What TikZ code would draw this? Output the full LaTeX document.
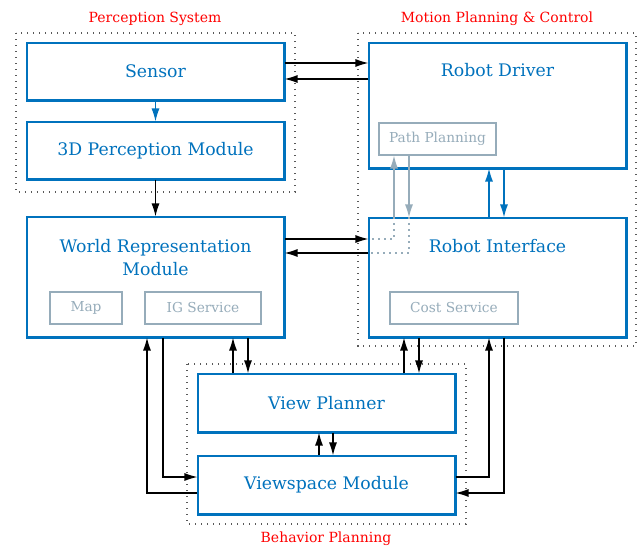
\documentclass[tikz,border=0pt]{standalone}
\usepackage{fontspec}
\setmainfont{DejaVu Serif}
\usetikzlibrary{arrows.meta,calc}
\definecolor{mblue}{RGB}{0,114,189}
\definecolor{mgray}{RGB}{150,172,186}
\definecolor{mred}{RGB}{255,0,0}
\begin{document}
\begin{tikzpicture}[x=1pt,y=-1pt,
  box/.style={draw=mblue,line width=1.1pt,fill=white,text=mblue,inner sep=0pt,font=\fontsize{17.3}{21}\selectfont},
  sub/.style={draw=mgray,line width=1.1pt,text=mgray,inner sep=0pt,font=\fontsize{13.7}{16}\selectfont},
  grp/.style={draw=black!65,line width=1.1pt,dash pattern=on 1.1pt off 4.9pt},
  grplabel/.style={text=mred,font=\fontsize{14}{16}\selectfont},
  btext/.style={text=mblue,font=\fontsize{17.3}{23}\selectfont,align=center},
  arr/.style={draw=black,line width=1.2pt,-{Latex[length=13pt,width=8pt]}},
  barr/.style={draw=mblue,line width=1.2pt,-{Latex[length=13pt,width=8pt]}},
  garr/.style={draw=mgray,line width=1.2pt,-{Latex[length=13pt,width=8pt]}},
  gdot/.style={draw=mgray,line width=1.1pt,dash pattern=on 1.1pt off 4.9pt},
]
\useasboundingbox (0,0) rectangle (637,547);
% groups
\draw[grp] (16,33) rectangle (295,192);
\draw[grp] (358,33) rectangle (636,346);
\draw[grp] (187,364) rectangle (466,524);
\node[grplabel] (lp) at (155,19) {Perception System};
\node[grplabel] (lm) at (497,19) {Motion Planning \& Control};
\node[grplabel] (lb) at (326,539) {Behavior Planning};
% boxes
\node[box,minimum width=257pt,minimum height=57pt] (sensor) at (155.5,71.5) {Sensor};
\node[box,minimum width=257pt,minimum height=57pt] (percep) at (155.5,150.5) {3D Perception Module};
\node[box,minimum width=257pt,minimum height=120pt] (world) at (155.5,277) {};
\node[btext] (worldtext) at (155.5,258) {World Representation\\Module};
\node[sub,minimum width=72pt,minimum height=32pt] (map) at (86,308) {Map};
\node[sub,minimum width=116pt,minimum height=32pt] (ig) at (203,308) {IG Service};
\node[box,minimum width=257pt,minimum height=125pt] (driver) at (497.5,105.5) {};
\node[btext] (drivertext) at (497.5,70) {Robot Driver};
\node[sub,minimum width=117pt,minimum height=32pt] (pp) at (437.5,139) {Path Planning};
\node[box,minimum width=257pt,minimum height=119pt] (ri) at (497.5,277.5) {};
\node[btext] (ritext) at (497.5,246) {Robot Interface};
\node[sub,minimum width=128pt,minimum height=32pt] (cost) at (454,308) {Cost Service};
\node[box,minimum width=257pt,minimum height=58pt] (vp) at (326.5,403) {View Planner};
\node[box,minimum width=257pt,minimum height=58pt] (vm) at (326.5,485) {Viewspace Module};
% thicker bottom/right edges
\foreach \n in {sensor,percep,world,driver,ri,vp,vm}{
  \draw[mblue,line width=1.6pt] ([shift={(0,0.8)}]\n.south west) -- ([shift={(0.8,0.8)}]\n.south east) -- ([shift={(0.8,0)}]\n.north east);
}
% connectors
\draw[arr] (sensor.east |- 0,63) -- (driver.west |- 0,63);
\draw[arr] (driver.west |- 0,79) -- (sensor.east |- 0,79);
\draw[barr] (sensor) -- (percep);
\draw[arr] (percep) -- (world);
\draw[arr] (world.east |- 0,239) -- (ri.west |- 0,239);
\draw[arr] (ri.west |- 0,253) -- (world.east |- 0,253);
\draw[garr] (ri.north -| 394,0) -- (pp.south -| 394,0);
\draw[garr] (pp.south -| 409,0) -- (ri.north -| 409,0);
\draw[gdot] (ri.north -| 394,0) -- (394,239) -- (ri.west |- 0,239);
\draw[gdot] (ri.north -| 409,0) -- (409,253) -- (ri.west |- 0,253);
\draw[barr] (ri.north -| 489,0) -- (driver.south -| 489,0);
\draw[barr] (driver.south -| 504,0) -- (ri.north -| 504,0);
\draw[arr] (vp.north -| 233,0) -- (world.south -| 233,0);
\draw[arr] (world.south -| 248,0) -- (vp.north -| 248,0);
\draw[arr] (vp.north -| 404,0) -- (ri.south -| 404,0);
\draw[arr] (ri.south -| 419,0) -- (vp.north -| 419,0);
\draw[arr] (vm.north -| 319,0) -- (vp.south -| 319,0);
\draw[arr] (vp.south -| 333,0) -- (vm.north -| 333,0);
\draw[arr] (world.south -| 163,0) |- (vm.west |- 0,477);
\draw[arr] (vm.west |- 0,493) -| (world.south -| 147,0);
\draw[arr] (vm.east |- 0,477) -| (ri.south -| 489,0);
\draw[arr] (ri.south -| 504,0) |- (vm.east |- 0,493);
\end{tikzpicture}
\end{document}
